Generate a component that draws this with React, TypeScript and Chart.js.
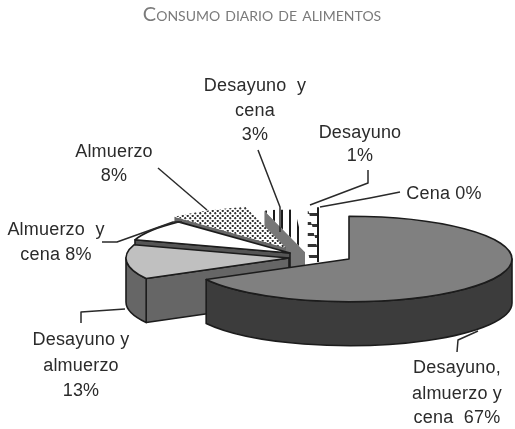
import React, { useEffect, useRef } from "react";
import { Chart, registerables } from "chart.js";

Chart.register(...registerables);

const categories = [
  "Desayuno, almuerzo y cena",
  "Desayuno y almuerzo",
  "Almuerzo y cena",
  "Almuerzo",
  "Desayuno y cena",
  "Desayuno",
  "Cena",
];
const shares = [67, 13, 8, 8, 3, 1, 0];
const chartTitle = "Consumo diario de alimentos";

// Drawn text blocks: lines, centre x, baseline y per line
const labelBlocks: [string[], number, number[]][] = [
  [["Desayuno  y", "cena", "3%"], 255, [91, 116, 140]],
  [["Desayuno", "1%"], 360, [138, 161]],
  [["Cena 0%"], 444, [199]],
  [["Almuerzo", "8%"], 114, [157, 181]],
  [["Almuerzo  y", "cena 8%"], 56, [235, 260]],
  [["Desayuno y", "almuerzo", "13%"], 81, [345, 371, 396]],
  [["Desayuno,", "almuerzo y", "cena  67%"], 457, [373, 399, 423]],
];
const leaders: [number, number][][] = [
  [[258, 150], [280, 207], [280, 232]],
  [[368, 170], [368, 183], [310, 205]],
  [[400, 192], [370, 198], [320, 207]],
  [[158, 168], [207, 210]],
  [[102, 242], [117, 242], [173, 222], [182, 222]],
  [[81, 323], [81, 312], [125, 309]],
  [[457, 352], [458, 340], [478, 331]],
];

// Projection and exploded-pie styling
const CX = 320;
const CY = 254;
const RADIUS = 163;
const SQUASH = 0.262;
const DEPTH = 44;
const explode: [number, number][] = [[29, 5], [-31, 4], [-30, -1], [-34, -6], [-15, -2], [-2, -4], [0, 0]];
const wallColors: any[] = ["#3c3c3c", "#666666", "#555555", "#666666", "#777777", "#777777", "#777777"];
const outlined = [true, true, true, false, false, false, false];
const INK = "#1c1c1c";

function tile(w: number, h: number, squash: number, paint: (c: CanvasRenderingContext2D) => void) {
  const t = document.createElement("canvas");
  t.width = w;
  t.height = Math.round(h / squash);
  const c = t.getContext("2d")!;
  c.scale(1, t.height / h);
  c.fillStyle = "#ffffff";
  c.fillRect(0, 0, w, h);
  paint(c);
  return c.createPattern(t, "repeat")!;
}

const piePlugin = {
  id: "pie3d",
  beforeDatasetDraw(chart: any) {
    const ctx: CanvasRenderingContext2D = chart.ctx;
    const arcs: any[] = chart.getDatasetMeta(0).data;
    const apex = (i: number) => [CX + explode[i][0], CY + explode[i][1]];
    const ry = RADIUS * SQUASH;

    // side walls, far to near
    ctx.save();
    ctx.strokeStyle = INK;
    ctx.lineJoin = "round";
    const order = [5, 4, 3, 2, 1, 0];
    for (const i of order) {
      const el = arcs[i];
      const [ax, ay] = apex(i);
      const a0 = el.startAngle;
      const a1 = el.endAngle;
      ctx.fillStyle = wallColors[i];
      ctx.lineWidth = 1.6;
      if (Math.cos(a0) < -0.001) {
        const px = ax + RADIUS * Math.cos(a0);
        const py = ay + ry * Math.sin(a0);
        ctx.beginPath();
        ctx.moveTo(ax, ay);
        ctx.lineTo(px, py);
        ctx.lineTo(px, py + DEPTH);
        ctx.lineTo(ax, ay + DEPTH);
        ctx.closePath();
        ctx.fill();
        if (outlined[i]) ctx.stroke();
      }
      const r0 = Math.max(a0, 0);
      const r1 = Math.min(a1, Math.PI);
      if (r1 > r0) {
        ctx.beginPath();
        ctx.ellipse(ax, ay, RADIUS, ry, 0, r0, r1);
        ctx.ellipse(ax, ay + DEPTH, RADIUS, ry, 0, r1, r0, true);
        ctx.closePath();
        ctx.fill();
        if (outlined[i]) ctx.stroke();
      }
    }
    ctx.restore();

    // tops: the library's own arc elements, under the projection
    arcs.forEach((el, i) => {
      if (el.circumference === 0) return;
      const [ax, ay] = apex(i);
      ctx.save();
      ctx.translate(ax, ay);
      ctx.scale(1, SQUASH);
      ctx.translate(-el.x, -el.y);
      el.draw(ctx);
      ctx.restore();
      ctx.save();
      ctx.strokeStyle = INK;
      ctx.lineJoin = "round";
      ctx.lineWidth = 1.6;
      if (outlined[i]) {
        ctx.beginPath();
        ctx.moveTo(ax, ay);
        ctx.ellipse(ax, ay, RADIUS, ry, 0, el.startAngle, el.endAngle);
        ctx.closePath();
        ctx.stroke();
      } else if (i === categories.length - 2) {
        // the last visible slice keeps a dark closing edge
        ctx.lineWidth = 2;
        ctx.beginPath();
        ctx.moveTo(ax, ay + 12);
        ctx.lineTo(ax + RADIUS * Math.cos(el.endAngle), ay + ry * Math.sin(el.endAngle));
        ctx.stroke();
      }
      ctx.restore();
    });
    return false;
  },
  afterDraw(chart: any) {
    const ctx: CanvasRenderingContext2D = chart.ctx;
    ctx.save();
    ctx.strokeStyle = "#2a2a2a";
    ctx.lineWidth = 1.5;
    ctx.lineJoin = "round";
    for (const path of leaders) {
      ctx.beginPath();
      path.forEach(([x, y], i) => (i ? ctx.lineTo(x, y) : ctx.moveTo(x, y)));
      ctx.stroke();
    }
    ctx.fillStyle = "#2b2b2b";
    ctx.font = '18px "Liberation Sans"';
    (ctx as any).letterSpacing = "0.2px";
    ctx.textAlign = "center";
    ctx.textBaseline = "alphabetic";
    for (const [lines, x, ys] of labelBlocks) {
      lines.forEach((t, i) => ctx.fillText(t, x, ys[i]));
    }
    ctx.restore();
  },
};

export default function App() {
  const ref = useRef<HTMLCanvasElement>(null);
  useEffect(() => {
    document.body.style.margin = "0";
    const dots = tile(5, 5, SQUASH, (c) => {
      c.fillStyle = "#333333";
      for (const [x, y] of [[1.25, 1.25], [3.75, 3.75]]) {
        c.beginPath();
        c.arc(x, y, 1.1, 0, Math.PI * 2);
        c.fill();
      }
    });
    const vertical = tile(8, 8, SQUASH, (c) => {
      c.fillStyle = "#1c1c1c";
      c.fillRect(6, 0, 2, 8);
    });
    const horizontal = tile(8, 11, SQUASH, (c) => {
      c.fillStyle = "#333333";
      c.fillRect(0, 2, 8, 2.5);
    });
    wallColors[5] = tile(8, 11, 1, (c) => {
      c.fillStyle = "#333333";
      c.fillRect(0, 2, 8, 3);
    });
    const chart = new Chart(ref.current!, {
      type: "pie",
      data: {
        labels: categories,
        datasets: [
          {
            data: shares,
            backgroundColor: ["#808080", "#c0c0c0", "#ffffff", dots, vertical, horizontal, "#ffffff"],
            borderWidth: 0,
          },
        ],
      },
      options: {
        responsive: false,
        animation: false,
        radius: RADIUS,
        rotation: 0,
        layout: { padding: { left: 9 } },
        plugins: {
          legend: { display: false },
          tooltip: { enabled: false },
          title: {
            display: true,
            text: chartTitle,
            color: "#7a7a7a",
            font: { family: "Lato", size: 20, weight: "small-caps" as any },
            padding: { top: 3, bottom: 8 },
          },
        },
      } as any,
      plugins: [piePlugin],
    });
    return () => chart.destroy();
  }, []);
  return <canvas ref={ref} width={515} height={429} style={{ display: "block", width: 515, height: 429 }} />;
}
